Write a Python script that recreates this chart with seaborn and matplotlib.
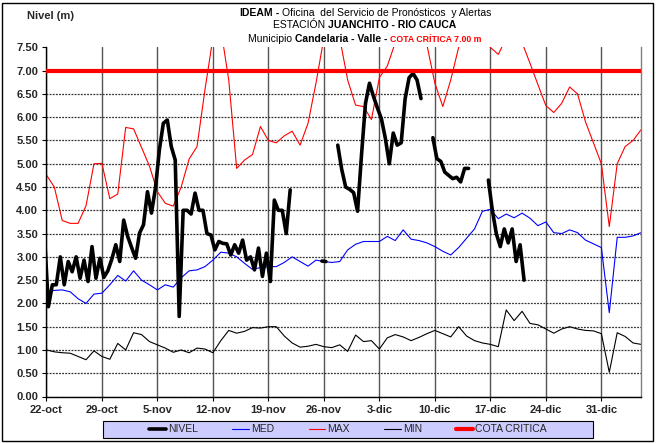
import numpy as np
import pandas as pd
import matplotlib
matplotlib.use("Agg")
import matplotlib.pyplot as plt
import seaborn as sns
from matplotlib.lines import Line2D
from matplotlib.patches import Rectangle

# ---------------- data ----------------
x_tick_labels = ['22-oct', '29-oct', '5-nov', '12-nov', '19-nov', '26-nov',
                 '3-dic', '10-dic', '17-dic', '24-dic', '31-dic']

# daily series, day 0 = 22-oct ... day 75 = 5-ene
med = [2.25, 2.28, 2.29, 2.25, 2.10, 2.00, 2.20, 2.22, 2.40, 2.60,
       2.48, 2.70, 2.50, 2.40, 2.29, 2.40, 2.35, 2.55, 2.70, 2.72,
       2.79, 2.93, 3.10, 3.08, 3.00, 2.86, 2.73, 2.77, 2.79, 2.79,
       2.88, 3.00, 2.90, 2.80, 2.93, 2.90, 2.88, 2.90, 3.15, 3.27,
       3.33, 3.33, 3.33, 3.44, 3.35, 3.58, 3.38, 3.35, 3.30, 3.22,
       3.12, 3.04, 3.20, 3.40, 3.60, 3.98, 4.02, 3.82, 3.92, 3.84,
       3.94, 3.83, 3.67, 3.75, 3.52, 3.50, 3.58, 3.52, 3.36, 3.28,
       3.20, 1.80, 3.42, 3.42, 3.45, 3.52]

max_vals = [4.76, 4.50, 3.78, 3.72, 3.72, 4.10, 5.00, 5.01, 4.25, 4.35,
            5.78, 5.75, 5.35, 4.95, 4.40, 4.15, 4.09, 4.50, 5.10, 5.37,
            6.59, 7.70, 7.90, 6.80, 4.90, 5.08, 5.20, 5.80, 5.50, 5.45,
            5.60, 5.70, 5.40, 5.87, 6.73, 7.70, 8.00, 7.70, 6.80, 6.26,
            6.23, 5.95, 6.85, 7.10, 7.60, 8.00, 8.20, 7.90, 7.55, 6.73,
            6.23, 6.80, 7.50, 8.00, 8.20, 7.80, 7.50, 7.35, 7.70, 7.90,
            7.60, 7.16, 6.70, 6.25, 6.10, 6.30, 6.65, 6.50, 5.90, 5.45,
            5.00, 3.65, 5.00, 5.37, 5.50, 5.73]

min_vals = [1.00, 0.96, 0.94, 0.93, 0.86, 0.79, 0.98, 0.86, 0.80, 1.14,
            1.00, 1.37, 1.33, 1.18, 1.11, 1.04, 0.95, 1.00, 0.94, 1.04,
            1.02, 0.94, 1.20, 1.42, 1.36, 1.40, 1.48, 1.47, 1.50, 1.50,
            1.30, 1.15, 1.06, 1.08, 1.12, 1.07, 1.05, 1.11, 0.97, 1.32,
            1.18, 1.20, 1.02, 1.26, 1.33, 1.28, 1.20, 1.27, 1.35, 1.42,
            1.35, 1.28, 1.50, 1.30, 1.20, 1.15, 1.12, 1.07, 1.86, 1.63,
            1.83, 1.57, 1.54, 1.45, 1.36, 1.45, 1.50, 1.45, 1.42, 1.41,
            1.35, 0.52, 1.37, 1.29, 1.15, 1.12]

# NIVEL: two readings per day (06h and 18h), first reading 21-oct 18h
nan = np.nan
nivel = [3.50, 1.93, 2.40, 2.40, 3.00, 2.40, 2.90, 2.68, 3.00, 2.54,
         2.93, 2.47, 3.22, 2.54, 2.97, 2.56, 2.70, 2.95, 3.26, 2.90,
         3.79, 3.44, 3.20, 2.97, 3.51, 3.69, 4.40, 3.94, 4.47, 5.30,
         5.87, 5.94, 5.37, 5.08, 1.72, 4.00, 4.00, 3.92, 4.37, 4.00,
         4.00, 3.50, 3.47, 3.15, 3.33, 3.29, 3.28, 3.04, 3.26, 3.08,
         3.36, 2.93, 3.00, 2.72, 3.19, 2.58, 3.08, 2.47, 4.22, 4.00,
         4.00, 3.50, 4.44, nan, nan, nan, nan, nan, nan, nan,
         2.91, 2.90, nan, nan, 5.40, 4.88, 4.50, 4.45, 4.38, 3.98,
         5.20, 6.30, 6.73, 6.45, 6.20, 5.97, 5.55, 5.00, 5.66, 5.40,
         5.45, 6.40, 6.85, 6.94, 6.80, 6.40, nan, nan, 5.56, 5.11,
         5.05, 4.82, 4.75, 4.68, 4.71, 4.61, 4.90, 4.90, nan, nan,
         nan, nan, 4.65, 4.00, 3.50, 3.22, 3.60, 3.30, 3.60, 2.90,
         3.26, 2.50]

cota_critica = 7.0

# ---------------- figure ----------------
sns.set_theme(style="white")
plt.rcParams['font.family'] = ['Liberation Sans', 'DejaVu Sans']

W, H = 656, 443
fig = plt.figure(figsize=(W / 100, H / 100), dpi=100)
ax = fig.add_axes([46.4 / W, 1 - 396.5 / H, (641 - 46.4) / W, (396.5 - 47.4) / H])

days = np.arange(len(med))
daily = pd.DataFrame({'day': days, 'MED': med, 'MAX': max_vals, 'MIN': min_vals})

nivel_t = -0.25 + 0.5 * np.arange(len(nivel))
niv = pd.DataFrame({'t': nivel_t, 'NIVEL': nivel})
niv['seg'] = niv['NIVEL'].isna().cumsum()
niv = niv.dropna()

sns.lineplot(data=daily, x='day', y='MED', color='#0000FF', lw=0.8, ax=ax)
sns.lineplot(data=daily, x='day', y='MAX', color='#FF0000', lw=0.8, ax=ax)
sns.lineplot(data=daily, x='day', y='MIN', color='black', lw=0.8, ax=ax)
sns.lineplot(data=niv, x='t', y='NIVEL', units='seg', estimator=None,
             color='black', lw=2.6, ax=ax)
ax.axhline(cota_critica, color='#FF0000', lw=3.0, zorder=5)

ax.set_xlim(0, 75)
ax.set_ylim(0, 7.5)
ax.set_xticks(np.arange(0, 7 * len(x_tick_labels), 7))
ax.set_xticklabels(x_tick_labels)
yt = np.arange(0, 7.51, 0.5)
ax.set_yticks(yt)
ax.set_yticklabels([f"{v:.2f}" for v in yt])
ax.set_xlabel('')
ax.set_ylabel('')

ax.grid(False)
ax.yaxis.grid(True, color='#333333', lw=0.9, ls=(0, (1.5, 1.0)))
ax.xaxis.grid(True, color='#555555', lw=1.0, ls='-')
ax.get_ygridlines()[-1].set_visible(False)
ax.set_axisbelow(True)

for s in ['left', 'bottom']:
    ax.spines[s].set_color('black')
    ax.spines[s].set_linewidth(1.0)
ax.spines['top'].set_visible(False)
ax.spines['right'].set_color('#808080')
ax.spines['right'].set_linewidth(1.0)

ax.tick_params(axis='both', which='both', direction='out', length=3, width=0.8,
               color='black', labelsize=8, pad=3, left=True, bottom=True)
for lab in ax.get_xticklabels() + ax.get_yticklabels():
    lab.set_fontweight('bold')

# ---------------- texts ----------------
fig.text(27 / W, 1 - 16 / H, 'Nivel (m)', fontsize=8, fontweight='bold',
         ha='left', va='center')

renderer = fig.canvas.get_renderer()


def rich_line(xc, yc, parts):
    texts = []
    widths = []
    for s, w, c, sz in parts:
        t = fig.text(0, 1 - yc / H, s, fontsize=sz, fontweight=w, color=c,
                     ha='left', va='baseline')
        bb = t.get_window_extent(renderer=renderer)
        texts.append(t)
        widths.append(bb.width)
    x = xc - sum(widths) / 2
    for t, wd in zip(texts, widths):
        t.set_x(x / W)
        x += wd


rich_line(365, 15.5, [('IDEAM', 'bold', 'black', 7.5),
                      (' - ', 'bold', 'black', 7.5),
                      ('Oficina  del Servicio de Pronósticos  y Alertas', 'normal', 'black', 7.5)])
rich_line(365, 28.5, [('ESTACIÓN ', 'normal', 'black', 7.5),
                      ('JUANCHITO - RIO CAUCA', 'bold', 'black', 7.5)])
rich_line(365, 41.5, [('Municipio ', 'normal', 'black', 7.5),
                      ('Candelaria - Valle - ', 'bold', 'black', 7.5),
                      ('COTA CRÍTICA 7.00 m', 'bold', '#FF0000', 6.3)])

# ---------------- legend ----------------
fig.patches.append(Rectangle((103 / W, 1 - 438 / H), (593 - 103) / W, 17 / H,
                             transform=fig.transFigure, facecolor='#CCCCFF',
                             edgecolor='black', lw=0.8, zorder=1))
handles = [Line2D([], [], color='black', lw=2.6, label='NIVEL'),
           Line2D([], [], color='#0000FF', lw=0.8, label='MED'),
           Line2D([], [], color='#FF0000', lw=0.8, label='MAX'),
           Line2D([], [], color='black', lw=0.8, label='MIN'),
           Line2D([], [], color='#FF0000', lw=3.0, label='COTA CRITICA')]
leg = fig.legend(handles=handles, ncol=5, loc='center',
                 bbox_to_anchor=(348 / W, 1 - 429.5 / H),
                 frameon=False, fontsize=7.5,
                 handlelength=1.6, handletextpad=0.2, columnspacing=3.3,
                 borderpad=0, borderaxespad=0)
leg.set_zorder(3)

fig.patches.append(Rectangle((2 / W, 2 / H), (W - 5) / W, (H - 5) / H,
                             transform=fig.transFigure, fill=False,
                             ec='black', lw=1.0))

fig.savefig('out.png', dpi=100)
